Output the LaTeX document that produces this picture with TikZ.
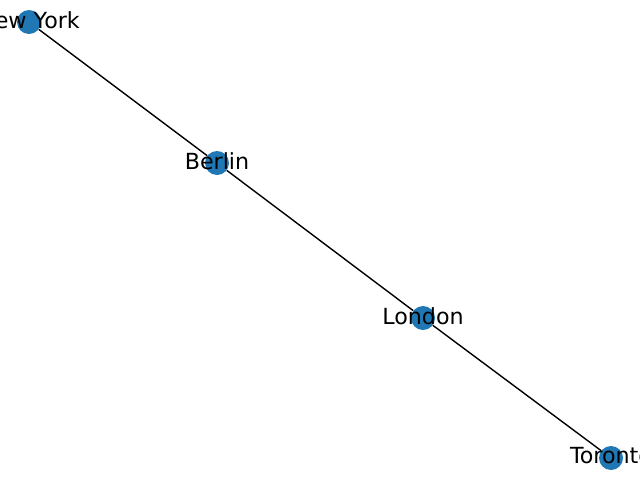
\documentclass[tikz,border=0pt]{standalone}
\usepackage{fontspec}
\setmainfont{DejaVu Sans}
\begin{document}
\begin{tikzpicture}[x=1pt,y=-1pt,
        city/.style={
          circle,fill={rgb,255:red,31;green,119;blue,180},
          minimum size=24pt,inner sep=0pt
        },
        citylabel/.style={font=\fontsize{22.2}{24}\selectfont,inner sep=0pt,yshift=2pt},
        link/.style={line width=1.4pt,color=black}
      ]
      \useasboundingbox (0,0) rectangle (640,480);
      \clip (0,0) rectangle (640,480);
      \node [city] (ny) at (29,22) {};
      \node [city] (berlin) at (217,163) {};
      \node [city] (london) at (423,318) {};
      \node [city] (toronto) at (611,458) {};
      \draw [link] (ny) -- (berlin);
      \draw [link] (berlin) -- (london);
      \draw [link] (london) -- (toronto);
      \node [citylabel] at (ny) {New York};
      \node [citylabel] at (berlin) {Berlin};
      \node [citylabel] at (london) {London};
      \node [citylabel] at (toronto) {Toronto};
    \end{tikzpicture}
\end{document}
